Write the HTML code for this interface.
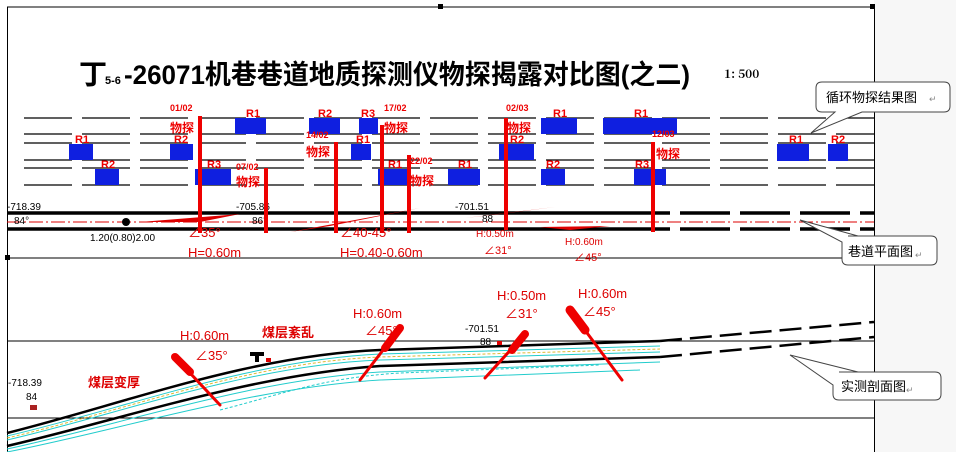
<!DOCTYPE html>
<html><head><meta charset="utf-8"><style>
html,body{margin:0;padding:0;background:#fff;}
svg{display:block;}
text{font-family:"Liberation Sans","Noto Sans CJK SC",sans-serif;}
.cj{font-family:"Noto Serif CJK SC","Liberation Serif",serif;}
.hei{font-family:"Liberation Sans","Noto Sans CJK SC",sans-serif;}
.mono{font-family:"Liberation Mono","Noto Sans CJK SC",monospace;}
</style></head><body>
<svg width="956" height="452" viewBox="0 0 956 452" xmlns="http://www.w3.org/2000/svg">
<rect x="874" y="0" width="82" height="452" fill="#f7f7f7"/>
<rect x="7" y="7" width="867" height="445" fill="#fff"/>
<line x1="7" y1="7" x2="874" y2="7" stroke="#000"/>
<line x1="7.5" y1="7" x2="7.5" y2="452" stroke="#000"/>
<line x1="874.5" y1="7" x2="874.5" y2="452" stroke="#000"/>
<line x1="7" y1="258" x2="874" y2="258" stroke="#000"/>
<line x1="7" y1="341" x2="874" y2="341" stroke="#000"/>
<line x1="7" y1="418" x2="874" y2="418" stroke="#000"/>
<rect x="5" y="255" width="5" height="5" fill="#000"/>
<rect x="438" y="4" width="5" height="5" fill="#000"/>
<rect x="870" y="4" width="5" height="5" fill="#000"/>

<!-- title -->
<text x="79" y="84" font-size="28" font-weight="bold" class="hei" fill="#000">丁</text>
<text x="105" y="84" font-size="11" font-weight="bold" class="hei" fill="#000">5-6</text>
<text x="124" y="84" font-size="27" font-weight="bold" class="hei" fill="#000" textLength="566" lengthAdjust="spacingAndGlyphs">-26071机巷巷道地质探测仪物探揭露对比图(之二)</text>
<text x="724" y="78" font-size="12" font-weight="bold" class="cj" fill="#000">1: 500</text>

<!-- dashed rows -->
<g stroke="#000" stroke-width="1.2" stroke-dasharray="48 10">
<line x1="24" y1="118" x2="874" y2="118"/>
<line x1="24" y1="134" x2="874" y2="134"/>
<line x1="24" y1="143" x2="874" y2="143"/>
<line x1="24" y1="160" x2="874" y2="160"/>
<line x1="24" y1="168" x2="874" y2="168"/>
<line x1="24" y1="185" x2="874" y2="185"/>
</g>

<!-- blue boxes -->
<g fill="#0f1fe0">
<rect x="69" y="144" width="24" height="16"/>
<rect x="95" y="169" width="24" height="16"/>
<rect x="170" y="144" width="23" height="16"/>
<rect x="235" y="118" width="31" height="16"/>
<rect x="195" y="169" width="36" height="16"/>
<rect x="309" y="118" width="31" height="16"/>
<rect x="359" y="118" width="19" height="16"/>
<rect x="351" y="144" width="20" height="16"/>
<rect x="378" y="169" width="30" height="16"/>
<rect x="448" y="169" width="32" height="16"/>
<rect x="499" y="144" width="35" height="16"/>
<rect x="541" y="118" width="36" height="16"/>
<rect x="603" y="118" width="74" height="16"/>
<rect x="541" y="169" width="24" height="16"/>
<rect x="634" y="169" width="32" height="16"/>
<rect x="777" y="144" width="32" height="17"/>
<rect x="828" y="144" width="20" height="17"/>
</g>
<g fill="#e00" font-size="11" font-weight="bold" class="cj">
<text x="75" y="143">R1</text><text x="101" y="168">R2</text><text x="174" y="143">R2</text>
<text x="246" y="117">R1</text><text x="207" y="168">R3</text><text x="318" y="117">R2</text>
<text x="361" y="117">R3</text><text x="356" y="143">R1</text><text x="388" y="168">R1</text>
<text x="458" y="168">R1</text><text x="510" y="143">R2</text><text x="553" y="117">R1</text>
<text x="634" y="117">R1</text><text x="546" y="168">R2</text><text x="635" y="168">R3</text>
<text x="789" y="143">R1</text><text x="831" y="143">R2</text>
</g>

<!-- roadway plan -->
<g stroke="#000" stroke-width="3.5">
<line x1="7" y1="213" x2="670" y2="213"/>
<line x1="7" y1="229" x2="670" y2="229"/>
<line x1="680" y1="213" x2="874" y2="213" stroke-dasharray="50 10"/>
<line x1="680" y1="229" x2="874" y2="229" stroke-dasharray="50 10"/>
</g>
<line x1="7" y1="222" x2="874" y2="222" stroke="#d00" stroke-width="1" stroke-dasharray="14 3 2 3"/>
<circle cx="126" cy="222" r="4" fill="#000"/>
<g fill="#d00">
<polygon points="140,222 240,214 200,222"/><polygon points="290,232 420,208 330,226"/>
<polygon points="465,218 555,207 500,214"/><polygon points="540,227 610,226 570,230"/>
</g>
<g font-size="10" fill="#000" class="mono">
<text x="7" y="210">-718.39</text><text x="14" y="224">84°</text>
<text x="90" y="241">1.20(0.80)2.00</text>
<text x="236" y="210">-705.86</text><text x="252" y="224">86°</text>
<text x="455" y="210">-701.51</text><text x="482" y="222">88</text>
</g>
<!-- red bars -->
<g stroke="#e00" stroke-width="4">
<line x1="200" y1="116" x2="200" y2="233"/><line x1="266" y1="168" x2="266" y2="233"/>
<line x1="336" y1="142" x2="336" y2="233"/><line x1="382" y1="125" x2="382" y2="233"/>
<line x1="409" y1="155" x2="409" y2="233"/><line x1="506" y1="118" x2="506" y2="230"/>
<line x1="653" y1="142" x2="653" y2="232"/>
</g>
<g fill="#e00" font-weight="bold" class="cj">
<text x="170" y="111" font-size="9">01/02</text><text x="170" y="132" font-size="12">物探</text>
<text x="236" y="170" font-size="9">07/02</text><text x="236" y="186" font-size="12">物探</text>
<text x="306" y="138" font-size="9">14/02</text><text x="306" y="156" font-size="12">物探</text>
<text x="384" y="111" font-size="9">17/02</text><text x="384" y="132" font-size="12">物探</text>
<text x="410" y="164" font-size="9">22/02</text><text x="410" y="185" font-size="12">物探</text>
<text x="506" y="111" font-size="9">02/03</text><text x="507" y="132" font-size="12">物探</text>
<text x="652" y="137" font-size="9">12/03</text><text x="656" y="158" font-size="12">物探</text>
</g>
<g fill="#d00" class="mono">
<text x="188" y="237" font-size="13">∠35°</text><text x="188" y="257" font-size="13">H=0.60m</text>
<text x="340" y="237" font-size="13">∠40-45°</text><text x="340" y="257" font-size="13">H=0.40-0.60m</text>
<text x="476" y="237" font-size="10">H:0.50m</text><text x="484" y="254" font-size="11">∠31°</text>
<text x="565" y="245" font-size="10">H:0.60m</text><text x="574" y="261" font-size="11">∠45°</text>
</g>

<!-- section -->
<g fill="none" stroke-width="1">
<path d="M7,436 C120,410 250,360 380,354 L660,346" stroke="#2cc" />
<path d="M7,440 C120,414 250,365 380,360 L660,352" stroke="#2cc"/>
<path d="M7,449 C120,425 250,380 380,372 L660,362" stroke="#2cc"/>
<path d="M7,452 C120,430 250,388 380,380 L640,370" stroke="#2cc"/>
<path d="M220,410 C280,395 320,378 400,373 L600,365" stroke="#2cc" stroke-dasharray="3 2"/>
<path d="M7,438 C120,412 250,362 380,357 L660,349" stroke="#db3" stroke-dasharray="3 2"/>
</g>
<path d="M7,433 C120,405 250,355 380,350 L660,341" fill="none" stroke="#000" stroke-width="2.5"/>
<path d="M7,446 C120,420 250,375 380,366 L660,357" fill="none" stroke="#000" stroke-width="2.5"/>
<line x1="660" y1="341" x2="874" y2="322" stroke="#000" stroke-width="2.5" stroke-dasharray="22 8"/>
<line x1="660" y1="357" x2="874" y2="337" stroke="#000" stroke-width="2.5" stroke-dasharray="22 8"/>
<rect x="30" y="405" width="7" height="5" fill="#a22"/>
<rect x="250" y="352" width="14" height="4" fill="#000"/><rect x="255" y="356" width="4" height="6" fill="#000"/>
<rect x="266" y="358" width="5" height="4" fill="#d00"/><rect x="497" y="341" width="5" height="4" fill="#d00"/>
<g stroke="#e00" stroke-linecap="round">
<line x1="175" y1="357" x2="220" y2="405" stroke-width="3"/><line x1="175" y1="357" x2="190" y2="372" stroke-width="8"/>
<line x1="400" y1="328" x2="360" y2="380" stroke-width="3"/><line x1="400" y1="328" x2="385" y2="348" stroke-width="8"/>
<line x1="525" y1="334" x2="485" y2="378" stroke-width="3"/><line x1="525" y1="334" x2="512" y2="350" stroke-width="8"/>
<line x1="570" y1="310" x2="622" y2="380" stroke-width="3"/><line x1="570" y1="310" x2="585" y2="330" stroke-width="9"/>
</g>
<g fill="#d00" class="mono" font-size="13">
<text x="180" y="340">H:0.60m</text><text x="195" y="360">∠35°</text>
<text x="353" y="318">H:0.60m</text><text x="365" y="335">∠45°</text>
<text x="497" y="300">H:0.50m</text><text x="505" y="318">∠31°</text>
<text x="578" y="298">H:0.60m</text><text x="583" y="316">∠45°</text>
</g>
<g fill="#d00" font-weight="bold" class="cj" font-size="13">
<text x="262" y="337">煤层紊乱</text><text x="88" y="387">煤层变厚</text>
</g>
<g fill="#000" class="mono" font-size="10">
<text x="8" y="386">-718.39</text><text x="26" y="400">84</text>
<text x="465" y="332">-701.51</text><text x="480" y="345">88</text>
</g>

<!-- callouts -->
<g fill="#fff" stroke="#444" stroke-width="1">
<path d="M822,82 H944 Q950,82 950,88 V106 Q950,112 944,112 H862 L811,133 L835,112 H822 Q816,112 816,106 V88 Q816,82 822,82 Z"/>
<path d="M848,236 H931 Q937,236 937,242 V259 Q937,265 931,265 H848 Q842,265 842,259 V242 L800,220 L858,236 Z"/>
<path d="M839,372 H935 Q941,372 941,378 V394 Q941,400 935,400 H839 Q833,400 833,394 V385 L790,355 L858,372 Z"/>
</g>
<g fill="#000" font-size="13" class="hei">
<text x="826" y="102">循环物探结果图</text><text x="929" y="102" font-size="9" fill="#888">↵</text>
<text x="848" y="256">巷道平面图</text><text x="915" y="258" font-size="9" fill="#888">↵</text>
<text x="841" y="391">实测剖面图</text><text x="906" y="393" font-size="9" fill="#888">↵</text>
</g>
</svg>
</body></html>
